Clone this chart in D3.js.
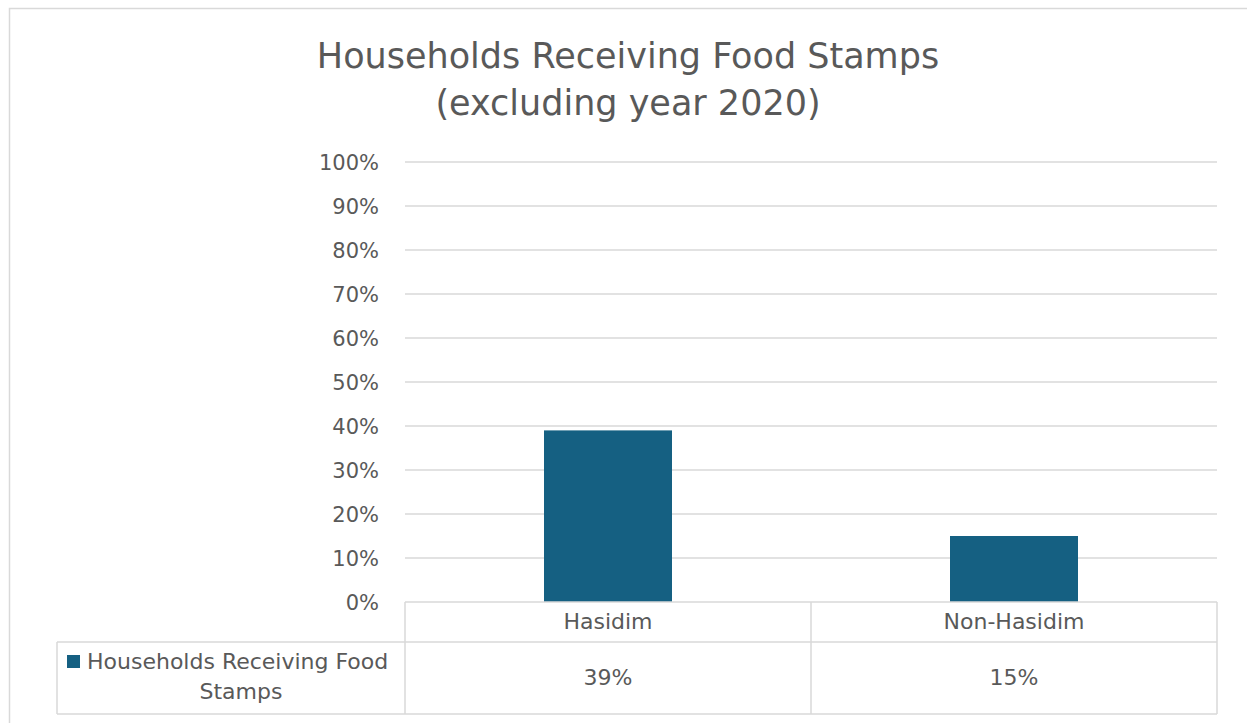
<!DOCTYPE html>
<html>
<head>
<meta charset="utf-8">
<script src="https://cdn.jsdelivr.net/npm/d3@7"></script>
<style>
  html, body { margin: 0; padding: 0; background: #fff; }
  svg { display: block; }
  text { font-family: "DejaVu Sans", "Open Sans", sans-serif; fill: #595959; }
</style>
</head>
<body>
<svg id="chart" width="1247" height="723"></svg>
<script>
const categories = ["Hasidim", "Non-Hasidim"];
const values = [0.39, 0.15];
const seriesName = "Households Receiving Food Stamps";
const legendLines = ["Households Receiving Food", "Stamps"];
const titleLines = ["Households Receiving Food Stamps", "(excluding year 2020)"];
const yTicks = [0, 0.1, 0.2, 0.3, 0.4, 0.5, 0.6, 0.7, 0.8, 0.9, 1.0];

const svg = d3.select("#chart");
const W = 1247, H = 723;
const plot = { left: 405, right: 1217, top: 162, bottom: 602 };
const tableLeft = 57, row1Bottom = 642, row2Bottom = 714;
const barColor = "#156082";
const gridColor = "#d9d9d9";
const tickSize = "21px";
const tableSize = "22px";

// outer frame
svg.append("rect").attr("x", 9.5).attr("y", 8.5).attr("width", W + 10).attr("height", H + 10)
  .attr("fill", "#fff").attr("stroke", gridColor).attr("stroke-width", 1.5);

// title
const title = svg.append("text").attr("text-anchor", "middle").style("font-size", "35px");
titleLines.forEach((t, i) => {
  title.append("tspan").attr("x", 628).attr("y", 68 + i * 47).text(t);
});

const x = d3.scaleBand().domain(categories).range([plot.left, plot.right]).paddingInner(0).paddingOuter(0);
const y = d3.scaleLinear().domain([0, 1]).range([plot.bottom, plot.top]);

// y axis labels
const yAxis = d3.axisLeft(y).tickValues(yTicks).tickFormat(d3.format(".0%")).tickSize(0).tickPadding(0);
const gAxis = svg.append("g").attr("transform", `translate(${plot.left},0)`).call(yAxis);
gAxis.select(".domain").remove();
gAxis.selectAll("text").attr("x", -26).attr("dy", "0.35em")
  .style("font-size", tickSize).style("font-family", '"DejaVu Sans", sans-serif').attr("fill", "#595959");

// gridlines
svg.append("g").selectAll("line").data(yTicks.filter(d => d > 0)).join("line")
  .attr("x1", plot.left).attr("x2", plot.right)
  .attr("y1", d => y(d)).attr("y2", d => y(d))
  .attr("stroke", gridColor).attr("stroke-width", 1.5);

// bars
const barW = 128;
svg.append("g").selectAll("rect").data(categories).join("rect")
  .attr("x", d => x(d) + x.bandwidth() / 2 - barW / 2)
  .attr("width", barW)
  .attr("y", (d, i) => y(values[i]))
  .attr("height", (d, i) => y(0) - y(values[i]))
  .attr("fill", barColor);

// data table
const tbl = svg.append("g").attr("stroke", gridColor).attr("stroke-width", 1.5).attr("fill", "none");
tbl.append("line").attr("x1", plot.left).attr("x2", plot.right).attr("y1", plot.bottom).attr("y2", plot.bottom);
tbl.append("line").attr("x1", tableLeft).attr("x2", plot.right).attr("y1", row1Bottom).attr("y2", row1Bottom);
tbl.append("line").attr("x1", tableLeft).attr("x2", plot.right).attr("y1", row2Bottom).attr("y2", row2Bottom);
tbl.append("line").attr("x1", tableLeft).attr("x2", tableLeft).attr("y1", row1Bottom).attr("y2", row2Bottom);
[plot.left, ...categories.map(c => x(c) + x.bandwidth())].forEach(xx => {
  tbl.append("line").attr("x1", xx).attr("x2", xx).attr("y1", plot.bottom).attr("y2", row2Bottom);
});

// category labels
svg.append("g").selectAll("text").data(categories).join("text")
  .attr("x", d => x(d) + x.bandwidth() / 2).attr("y", 621).attr("dy", "0.35em")
  .attr("text-anchor", "middle").style("font-size", tableSize).text(d => d);

// values
svg.append("g").selectAll("text").data(categories).join("text")
  .attr("x", d => x(d) + x.bandwidth() / 2).attr("y", 677).attr("dy", "0.35em")
  .attr("text-anchor", "middle").style("font-size", tableSize)
  .text((d, i) => d3.format(".0%")(values[i]));

// legend key
svg.append("rect").attr("x", 67).attr("y", 655).attr("width", 13).attr("height", 13).attr("fill", barColor);
svg.append("text").attr("x", 87).attr("y", 661).attr("dy", "0.35em").style("font-size", tableSize).text(legendLines[0]);
svg.append("text").attr("x", 241).attr("y", 691).attr("dy", "0.35em").attr("text-anchor", "middle").style("font-size", tableSize).text(legendLines[1]);
</script>
</body>
</html>
